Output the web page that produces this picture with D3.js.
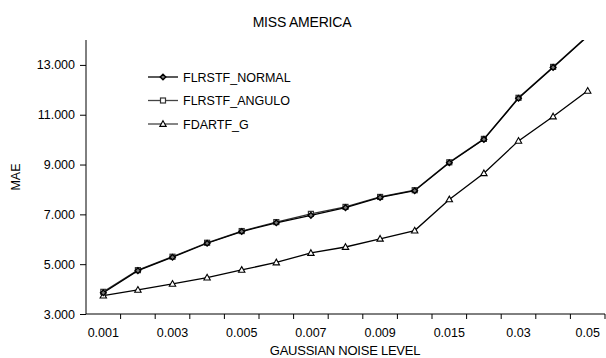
<!DOCTYPE html>
<html>
<head>
<meta charset="utf-8">
<script src="https://cdn.jsdelivr.net/npm/d3@7"></script>
<style>
  body { margin: 0; background: #fff; }
  svg { font-family: "Liberation Sans", Arial, sans-serif; }
</style>
</head>
<body>
<svg></svg>
<script>
const levels = ["0.001", "0.002", "0.003", "0.004", "0.005", "0.006", "0.007", "0.008",
    "0.009", "0.01", "0.015", "0.02", "0.03", "0.04", "0.05"];
const shownLabels = ["0.001", "0.003", "0.005", "0.007", "0.009", "0.015", "0.03", "0.05"];
const flrstfNormal = [3.85, 4.74, 5.28, 5.84, 6.31, 6.66, 6.96, 7.27, 7.68, 7.95, 9.07, 10.01, 11.66, 12.90, 14.15];
const flrstfAngulo = [3.89, 4.76, 5.30, 5.86, 6.33, 6.69, 7.02, 7.30, 7.70, 7.97, 9.09, 10.03, 11.68, 12.92, 14.17];
const fdartfG = [3.74, 3.97, 4.21, 4.46, 4.77, 5.07, 5.45, 5.69, 6.02, 6.35, 7.60, 8.65, 9.95, 10.93, 11.96];
const yTicks = [3, 5, 7, 9, 11, 13];

const series = [
    { name: "FLRSTF_NORMAL", values: flrstfNormal, color: "#000", marker: "diamond" },
    { name: "FLRSTF_ANGULO", values: flrstfAngulo, color: "#333", marker: "square" },
    { name: "FDARTF_G", values: fdartfG, color: "#000", marker: "triangle" }
];

const width = 606;
const height = 358;
const marginTop = 40;
const marginRight = 1;
const marginBottom = 44;
const marginLeft = 86;

const svg = d3.select("svg")
    .attr("width", width)
    .attr("height", height);

const x = d3.scaleBand()
    .domain(levels)
    .range([marginLeft, width - marginRight]);

const y = d3.scaleLinear()
    .domain([3, 14])
    .range([height - marginBottom, marginTop]);

svg.append("defs").append("clipPath")
    .attr("id", "plot")
    .append("rect")
    .attr("x", marginLeft)
    .attr("y", marginTop)
    .attr("width", width - marginLeft - marginRight)
    .attr("height", height - marginTop - marginBottom);

// x axis: ticks between categories, labels on every other one
const gx = svg.append("g")
    .attr("transform", `translate(0,${height - marginBottom})`);
gx.append("line")
    .attr("x1", marginLeft).attr("x2", width - marginRight)
    .attr("stroke", "#000");
gx.selectAll(".tick")
    .data(levels)
    .join("line")
    .attr("x1", d => x(d) + x.bandwidth())
    .attr("x2", d => x(d) + x.bandwidth())
    .attr("y1", 0).attr("y2", 5)
    .attr("stroke", "#000");
gx.selectAll("text")
    .data(shownLabels)
    .join("text")
    .attr("x", d => x(d) + x.bandwidth() / 2)
    .attr("y", 23)
    .attr("text-anchor", "middle")
    .attr("font-size", 12.5)
    .text(d => d);

svg.append("text")
    .attr("x", 345)
    .attr("y", 355)
    .attr("text-anchor", "middle")
    .attr("font-size", 13)
    .attr("letter-spacing", -0.25)
    .text("GAUSSIAN NOISE LEVEL");

// y axis
svg.append("g")
    .attr("transform", `translate(${marginLeft},0)`)
    .call(d3.axisLeft(y).tickValues(yTicks).tickFormat(d3.format(".3f")).tickSize(6).tickPadding(5))
    .call(g => g.select(".domain").attr("d", `M0,${marginTop}V${height - marginBottom}`))
    .call(g => g.selectAll("text").attr("font-size", 12.5).attr("font-family", "Liberation Sans, Arial, sans-serif"));

svg.append("text")
    .attr("transform", `translate(20,177) rotate(-90)`)
    .attr("text-anchor", "middle")
    .attr("font-size", 12.5)
    .text("MAE");

svg.append("text")
    .attr("x", 302)
    .attr("y", 27)
    .attr("text-anchor", "middle")
    .attr("font-size", 14)
    .attr("letter-spacing", -0.2)
    .text("MISS AMERICA");

function drawMarker(g, type, color) {
    if (type === "diamond") {
        g.append("path").attr("d", "M0,-2.8L2.8,0L0,2.8L-2.8,0Z")
            .attr("fill", "#777").attr("stroke", color).attr("stroke-width", 1.4);
    } else if (type === "square") {
        g.append("rect").attr("x", -2.5).attr("y", -2.5).attr("width", 5).attr("height", 5)
            .attr("fill", "#fff").attr("stroke", color).attr("stroke-width", 1.2);
    } else {
        g.append("path").attr("d", "M0,-3.3L3.2,2.4L-3.2,2.4Z")
            .attr("fill", "#fff").attr("stroke", color).attr("stroke-width", 1.1);
    }
}

const line = d3.line()
    .x((d, i) => x(levels[i]) + x.bandwidth() / 2)
    .y(d => y(d));

const plot = svg.append("g").attr("clip-path", "url(#plot)");

series.slice().reverse().forEach(s => {
    plot.append("path")
        .attr("fill", "none")
        .attr("stroke", s.color)
        .attr("stroke-width", 1.3)
        .attr("d", line(s.values));
    s.values.forEach((v, i) => {
        if (y(v) < marginTop) return;
        const g = plot.append("g")
            .attr("transform", `translate(${x(levels[i]) + x.bandwidth() / 2},${y(v)})`);
        drawMarker(g, s.marker, s.color);
    });
});

// legend
const legend = svg.append("g").attr("transform", "translate(148,77)");
series.forEach((s, i) => {
    const g = legend.append("g").attr("transform", `translate(0,${i * 23.5})`);
    g.append("line")
        .attr("x1", 0).attr("x2", 30)
        .attr("stroke", i === 0 ? "#000" : "#444")
        .attr("stroke-width", 1.3);
    drawMarker(g.append("g").attr("transform", "translate(15,0)"), s.marker, s.color);
    g.append("text")
        .attr("x", 35)
        .attr("y", 4.5)
        .attr("font-size", 12.5)
        .text(s.name);
});
</script>
</body>
</html>
